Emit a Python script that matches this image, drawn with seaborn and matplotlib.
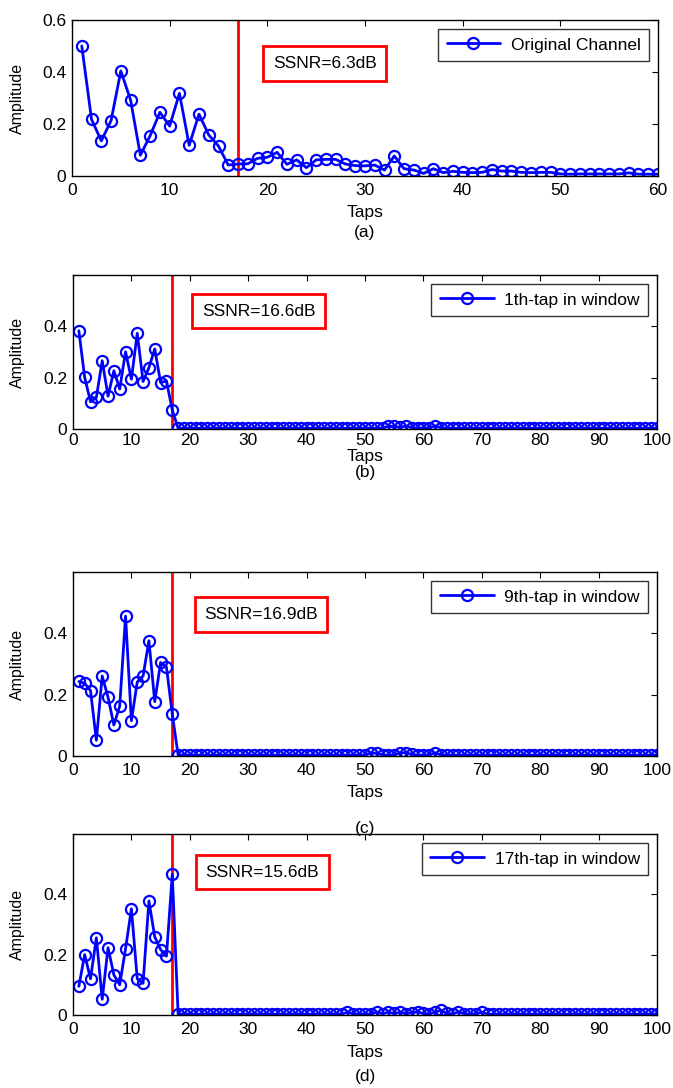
import numpy as np
import matplotlib
matplotlib.use("Agg")
import matplotlib.pyplot as plt
import seaborn as sns

# ---- data ----
taps_a = list(range(1, 61))
amp_a = [0.500, 0.218, 0.135, 0.213, 0.404, 0.292, 0.080, 0.155, 0.245, 0.192,
         0.318, 0.118, 0.238, 0.158, 0.115, 0.042, 0.046, 0.047, 0.068, 0.072,
         0.091, 0.045, 0.062, 0.032, 0.062, 0.064, 0.064, 0.046, 0.040, 0.039,
         0.042, 0.023, 0.077, 0.028, 0.023, 0.010, 0.028, 0.013, 0.018, 0.014,
         0.013, 0.014, 0.025, 0.019, 0.019, 0.014, 0.013, 0.014, 0.014, 0.008,
         0.007, 0.008, 0.008, 0.008, 0.008, 0.008, 0.012, 0.007, 0.007, 0.007]

taps_w = list(range(1, 101))
amp_b = [0.383, 0.201, 0.106, 0.123, 0.266, 0.128, 0.227, 0.156, 0.301, 0.194,
         0.373, 0.185, 0.239, 0.312, 0.181, 0.187, 0.074, 0.003, 0.003, 0.003,
         0.003, 0.003, 0.003, 0.003, 0.003, 0.003, 0.003, 0.003, 0.003, 0.003,
         0.003, 0.003, 0.003, 0.003, 0.003, 0.003, 0.003, 0.003, 0.003, 0.003,
         0.003, 0.003, 0.003, 0.003, 0.003, 0.003, 0.003, 0.003, 0.003, 0.003,
         0.003, 0.003, 0.004, 0.010, 0.010, 0.006, 0.012, 0.005, 0.004, 0.004,
         0.004, 0.012, 0.005, 0.003, 0.003, 0.003, 0.003, 0.003, 0.003, 0.003,
         0.003, 0.003, 0.003, 0.003, 0.003, 0.003, 0.003, 0.003, 0.003, 0.003,
         0.003, 0.003, 0.003, 0.003, 0.003, 0.003, 0.003, 0.003, 0.003, 0.003,
         0.003, 0.003, 0.003, 0.003, 0.003, 0.003, 0.003, 0.003, 0.003, 0.003]

amp_c = [0.243, 0.237, 0.213, 0.051, 0.261, 0.191, 0.101, 0.163, 0.456, 0.115,
         0.241, 0.261, 0.376, 0.177, 0.305, 0.290, 0.137, 0.003, 0.003, 0.003,
         0.003, 0.003, 0.003, 0.003, 0.003, 0.003, 0.003, 0.003, 0.003, 0.003,
         0.003, 0.003, 0.003, 0.003, 0.003, 0.003, 0.003, 0.003, 0.003, 0.003,
         0.003, 0.003, 0.003, 0.003, 0.003, 0.003, 0.003, 0.003, 0.003, 0.003,
         0.010, 0.009, 0.004, 0.003, 0.004, 0.010, 0.011, 0.005, 0.003, 0.003,
         0.004, 0.010, 0.004, 0.003, 0.003, 0.003, 0.003, 0.003, 0.003, 0.003,
         0.003, 0.003, 0.003, 0.003, 0.003, 0.003, 0.003, 0.003, 0.003, 0.003,
         0.003, 0.003, 0.003, 0.003, 0.003, 0.003, 0.003, 0.003, 0.003, 0.003,
         0.003, 0.003, 0.003, 0.003, 0.003, 0.003, 0.003, 0.003, 0.003, 0.003]

amp_d = [0.095, 0.200, 0.120, 0.256, 0.052, 0.223, 0.133, 0.100, 0.220, 0.352,
         0.120, 0.105, 0.378, 0.259, 0.217, 0.195, 0.466, 0.003, 0.003, 0.003,
         0.003, 0.003, 0.003, 0.003, 0.003, 0.003, 0.003, 0.003, 0.003, 0.003,
         0.003, 0.003, 0.003, 0.003, 0.003, 0.003, 0.003, 0.003, 0.003, 0.003,
         0.003, 0.003, 0.003, 0.003, 0.003, 0.003, 0.009, 0.004, 0.003, 0.003,
         0.003, 0.010, 0.004, 0.009, 0.005, 0.009, 0.004, 0.008, 0.010, 0.005,
         0.004, 0.009, 0.016, 0.005, 0.004, 0.010, 0.004, 0.003, 0.004, 0.009,
         0.003, 0.003, 0.003, 0.003, 0.003, 0.003, 0.003, 0.003, 0.003, 0.003,
         0.003, 0.003, 0.003, 0.003, 0.003, 0.003, 0.003, 0.003, 0.003, 0.003,
         0.003, 0.003, 0.003, 0.003, 0.003, 0.003, 0.003, 0.003, 0.003, 0.003]

legend_labels = ["Original Channel", "1th-tap in window",
                 "9th-tap in window", "17th-tap in window"]
ssnr_labels = ["SSNR=6.3dB", "SSNR=16.6dB", "SSNR=16.9dB", "SSNR=15.6dB"]
panel_tags = ["(a)", "(b)", "(c)", "(d)"]
window_edge = 17

# ---- style ----
sns.set_style("white")
plt.rcParams["font.family"] = ["Liberation Sans", "DejaVu Sans"]
plt.rcParams["font.size"] = 12.5
plt.rcParams["text.color"] = "black"
plt.rcParams["axes.labelcolor"] = "black"
plt.rcParams["xtick.color"] = "black"
plt.rcParams["ytick.color"] = "black"
plt.rcParams["xtick.direction"] = "in"
plt.rcParams["ytick.direction"] = "in"
plt.rcParams["xtick.top"] = True
plt.rcParams["ytick.right"] = True

FS = 12.5
W, H = 673, 1088
fig = plt.figure(figsize=(W / 100, H / 100), dpi=100)

# axes boxes in pixels: left, right, top, bottom
boxes = [(72, 658, 20, 176), (73, 657, 275, 429),
         (73, 657, 572, 756), (73, 657, 834, 1015)]
ssnr_pos = [(0.431, 0.721), (0.318, 0.766), (0.322, 0.769), (0.324, 0.79)]
taps_y = [213, 456, 793, 1053]
tag_y = [232, 472, 828, 1076]
xpad = [5, 3, 5, 5]

series = [(taps_a, amp_a), (taps_w, amp_b), (taps_w, amp_c), (taps_w, amp_d)]

for i, (x, y) in enumerate(series):
    l, r, t, b = boxes[i]
    ax = fig.add_axes([l / W, 1 - b / H, (r - l) / W, (b - t) / H])
    sns.lineplot(x=x, y=y, ax=ax, color="#0000ff", linewidth=2,
                 marker="o", markersize=8, markerfacecolor="none",
                 markeredgecolor="#0000ff", markeredgewidth=1.6,
                 label=legend_labels[i])
    ax.axvline(window_edge, color="red", linewidth=2, zorder=1)

    ax.set_ylim(0, 0.6)
    if i == 0:
        ax.set_xlim(0, 60)
        ax.set_yticks([0, 0.2, 0.4, 0.6])
        ax.set_yticklabels(["0", "0.2", "0.4", "0.6"])
    else:
        ax.set_xlim(0, 100)
        ax.set_yticks([0, 0.2, 0.4])
        ax.set_yticklabels(["0", "0.2", "0.4"])
        ax.set_xticks(range(0, 101, 10))
    ax.tick_params(length=4, width=0.8, color="black", labelsize=FS)
    ax.tick_params(axis="x", pad=xpad[i])
    ax.tick_params(axis="y", pad=4)
    for s in ax.spines.values():
        s.set_color("black")
        s.set_linewidth(1)

    ax.set_xlabel("")
    ax.set_ylabel("Amplitude", fontsize=11.5)
    ax.yaxis.set_label_coords((25 - l) / (r - l), 0.5)

    leg = ax.legend(loc="upper right", fancybox=False, frameon=True,
                    edgecolor="black", handlelength=3.1, borderaxespad=0.5,
                    fontsize=FS, borderpad=0.5, handletextpad=0.6)
    leg.get_frame().set_linewidth(1)

    ax.text(ssnr_pos[i][0], ssnr_pos[i][1], ssnr_labels[i],
            transform=ax.transAxes, ha="center", va="center", fontsize=FS,
            bbox=dict(boxstyle="square,pad=0.55", fc="white", ec="red", lw=2))

    cx = (l + r) / 2 / W
    fig.text(cx, 1 - taps_y[i] / H, "Taps", ha="center", va="center", fontsize=FS)
    fig.text(cx, 1 - tag_y[i] / H, panel_tags[i], ha="center", va="center", fontsize=FS)

fig.savefig("out.png", dpi=100, facecolor="white")
